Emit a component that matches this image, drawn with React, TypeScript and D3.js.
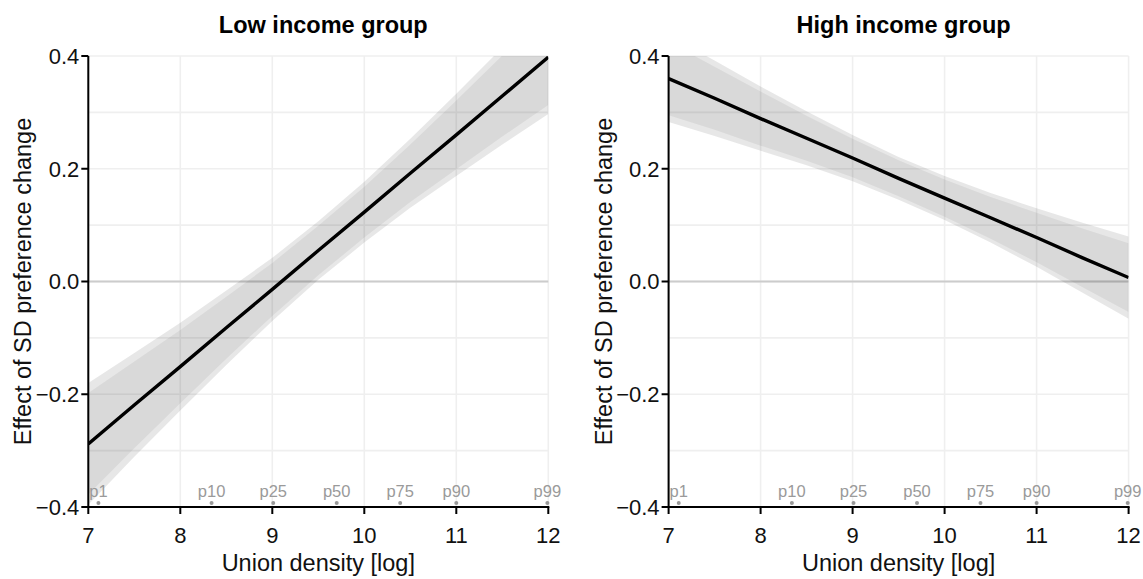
import * as d3 from 'd3';

const xGrid = [7, 7.5, 8, 8.5, 9, 9.5, 10, 10.5, 11, 11.5, 12];

// Low income group: estimate and two confidence bands (outer / inner)
const lowFit = [-0.288, -0.219, -0.151, -0.082, -0.014, 0.055, 0.123, 0.192, 0.26, 0.329, 0.398];
const lowOuterLo = [-0.396, -0.311, -0.229, -0.148, -0.07, 0.003, 0.069, 0.131, 0.187, 0.243, 0.297];
const lowOuterHi = [-0.18, -0.127, -0.073, -0.016, 0.042, 0.107, 0.177, 0.253, 0.333, 0.415, 0.499];
const lowInnerLo = [-0.378, -0.296, -0.216, -0.137, -0.061, 0.011, 0.078, 0.141, 0.199, 0.257, 0.313];
const lowInnerHi = [-0.198, -0.142, -0.086, -0.027, 0.033, 0.099, 0.168, 0.243, 0.321, 0.401, 0.483];

// High income group
const highFit = [0.36, 0.325, 0.289, 0.254, 0.219, 0.183, 0.148, 0.113, 0.078, 0.042, 0.007];
const highOuterLo = [0.283, 0.258, 0.232, 0.206, 0.178, 0.145, 0.109, 0.069, 0.026, -0.02, -0.066];
const highOuterHi = [0.437, 0.392, 0.346, 0.302, 0.26, 0.221, 0.187, 0.157, 0.13, 0.104, 0.08];
const highInnerLo = [0.295, 0.269, 0.241, 0.214, 0.185, 0.151, 0.115, 0.076, 0.034, -0.01, -0.054];
const highInnerHi = [0.425, 0.381, 0.337, 0.294, 0.253, 0.215, 0.181, 0.15, 0.122, 0.094, 0.068];

const pctLabels = ['p1', 'p10', 'p25', 'p50', 'p75', 'p90', 'p99'];
const pctValues = [7.11, 8.34, 9.01, 9.7, 10.39, 11.0, 11.99];

const xTicks = [7, 8, 9, 10, 11, 12];
const yTicks = [-0.4, -0.2, 0, 0.2, 0.4];
const yGridLines = [-0.4, -0.3, -0.2, -0.1, 0, 0.1, 0.2, 0.3, 0.4];

const FONT = '"Liberation Sans", Arial, Helvetica, sans-serif';
const W = 1143;
const H = 579;

function fmtY(v: number) {
  const s = Math.abs(v).toFixed(1);
  return v < -1e-9 ? '\u2212' + s : s;
}

type PanelProps = {
  id: string;
  title: string;
  left: number;
  fit: number[];
  outerLo: number[];
  outerHi: number[];
  innerLo: number[];
  innerHi: number[];
};

function Panel({ id, title, left, fit, outerLo, outerHi, innerLo, innerHi }: PanelProps) {
  const plotW = 460;
  const top = 56;
  const bottom = 507;
  const x = d3.scaleLinear().domain([7, 12]).range([left, left + plotW]);
  const y = d3.scaleLinear().domain([-0.4, 0.4]).range([bottom, top]);

  const area = (lo: number[], hi: number[]) =>
    d3
      .area<number>()
      .x((d) => x(d))
      .y0((_, i) => y(lo[i]))
      .y1((_, i) => y(hi[i]))(xGrid) ?? '';
  const line = d3
    .line<number>()
    .x((d) => x(d))
    .y((_, i) => y(fit[i]))(xGrid) ?? '';

  const tickLen = 7;

  return (
    <g>
      <defs>
        <clipPath id={`clip-${id}`}>
          <rect x={left} y={top} width={plotW} height={bottom - top} />
        </clipPath>
      </defs>
      {/* grid */}
      {yGridLines.map((v) => (
        <line key={`h${v}`} x1={left} x2={left + plotW} y1={y(v)} y2={y(v)} stroke="#efefef" strokeWidth={1.6} />
      ))}
      {xTicks.map((v) => (
        <line key={`v${v}`} x1={x(v)} x2={x(v)} y1={top} y2={bottom} stroke="#efefef" strokeWidth={1.6} />
      ))}
      <line x1={left} x2={left + plotW} y1={y(0)} y2={y(0)} stroke="#cccccc" strokeWidth={2} />

      <g clipPath={`url(#clip-${id})`}>
        <path d={area(outerLo, outerHi)} fill="#000" fillOpacity={0.095} />
        <path d={area(innerLo, innerHi)} fill="#000" fillOpacity={0.06} />
        <path d={line} fill="none" stroke="#000" strokeWidth={3.4} />
      </g>

      {/* percentile markers */}
      {pctValues.map((v, i) => (
        <g key={pctLabels[i]}>
          <circle cx={x(v)} cy={bottom - 4} r={2} fill="#999999" />
          <text
            x={x(v)}
            y={bottom - 10}
            textAnchor="middle"
            fontSize={16.5}
            fill="#9a9a9a"
            fontFamily={FONT}
          >
            {pctLabels[i]}
          </text>
        </g>
      ))}

      {/* axes */}
      <line x1={left} x2={left} y1={top} y2={bottom + 1} stroke="#000" strokeWidth={2} />
      <line x1={left - 1} x2={left + plotW + 1} y1={bottom} y2={bottom} stroke="#000" strokeWidth={2} />
      {yTicks.map((v) => (
        <g key={`yt${v}`}>
          <line x1={left - tickLen} x2={left} y1={y(v)} y2={y(v)} stroke="#000" strokeWidth={2} />
          <text
            x={left - tickLen - 2}
            y={y(v)}
            dy="0.36em"
            textAnchor="end"
            fontSize={22}
            fill="#111"
            fontFamily={FONT}
          >
            {fmtY(v)}
          </text>
        </g>
      ))}
      {xTicks.map((v) => (
        <g key={`xt${v}`}>
          <line x1={x(v)} x2={x(v)} y1={bottom} y2={bottom + tickLen} stroke="#000" strokeWidth={2} />
          <text x={x(v)} y={bottom + 36} textAnchor="middle" fontSize={22} fill="#111" fontFamily={FONT}>
            {v}
          </text>
        </g>
      ))}

      <text
        x={left + plotW / 2}
        y={571}
        textAnchor="middle"
        fontSize={23.5}
        fill="#111"
        fontFamily={FONT}
      >
        Union density [log]
      </text>
      <text
        transform={`translate(${left - 57}, ${(top + bottom) / 2}) rotate(-90)`}
        textAnchor="middle"
        fontSize={23.5}
        fill="#111"
        fontFamily={FONT}
      >
        Effect of SD preference change
      </text>
      <text
        x={left + plotW / 2 + 5}
        y={33}
        textAnchor="middle"
        fontSize={23.5}
        fontWeight="bold"
        fill="#000"
        fontFamily={FONT}
      >
        {title}
      </text>
    </g>
  );
}

export default function App() {
  return (
    <svg
      width={W}
      height={H}
      viewBox={`0 0 ${W} ${H}`}
      style={{ position: 'absolute', left: 0, top: 0, background: '#fff' }}
    >
      <rect width={W} height={H} fill="#fff" />
      <Panel
        id="low"
        title="Low income group"
        left={88.3}
        fit={lowFit}
        outerLo={lowOuterLo}
        outerHi={lowOuterHi}
        innerLo={lowInnerLo}
        innerHi={lowInnerHi}
      />
      <Panel
        id="high"
        title="High income group"
        left={668.6}
        fit={highFit}
        outerLo={highOuterLo}
        outerHi={highOuterHi}
        innerLo={highInnerLo}
        innerHi={highInnerHi}
      />
    </svg>
  );
}
